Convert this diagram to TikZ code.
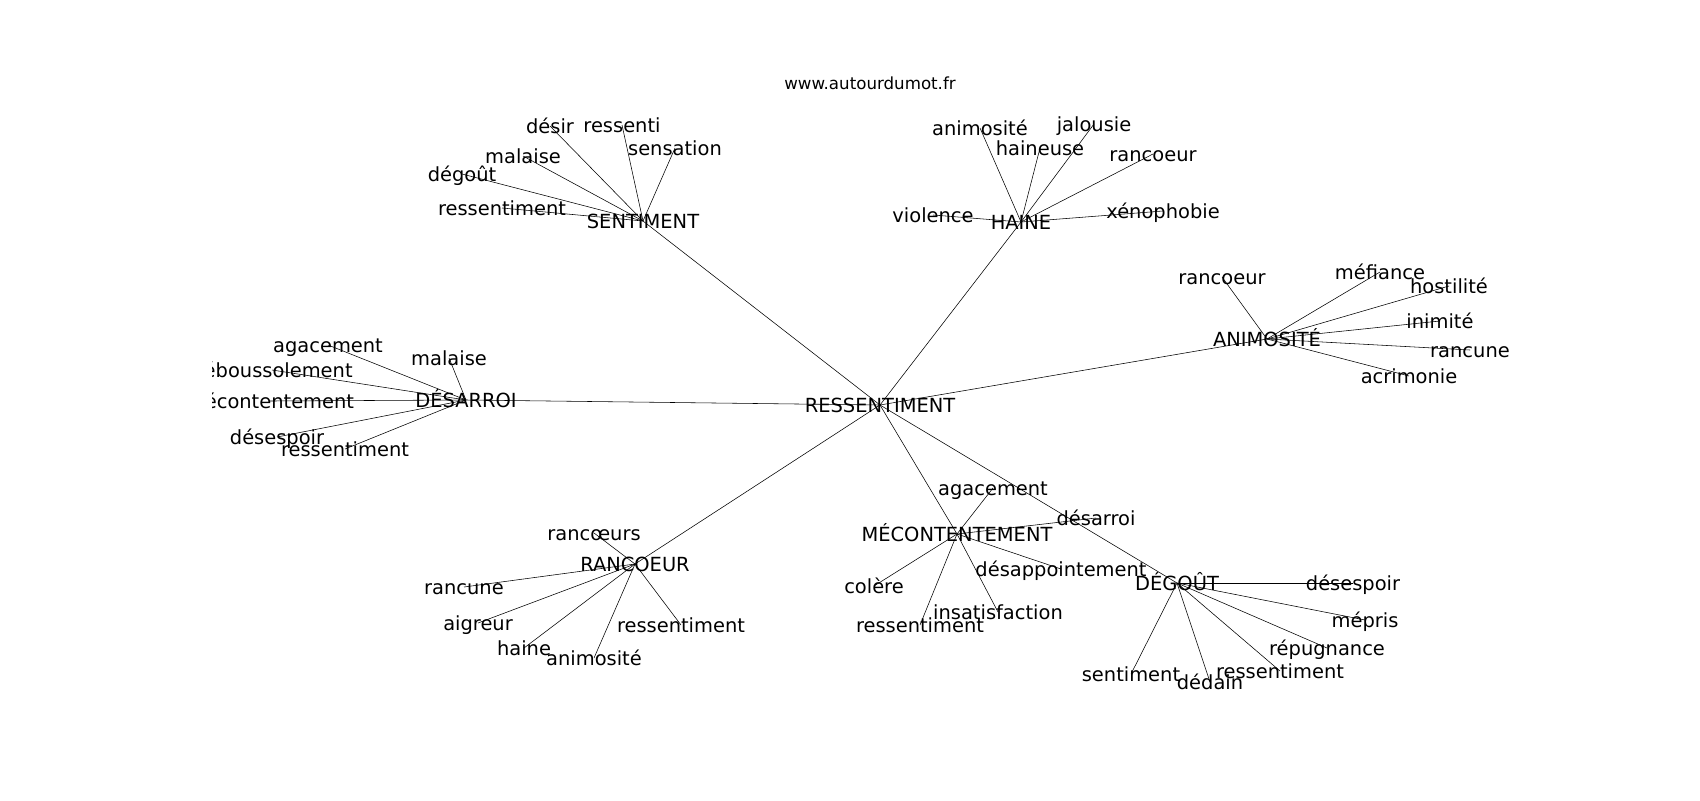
\documentclass[tikz,border=0pt]{standalone}
\usepackage{fontspec}
\setmainfont{DejaVu Sans}
\usetikzlibrary{backgrounds}
\begin{document}
\begin{tikzpicture}[x=0.72pt,y=-0.72pt,
    every node/.style={font=\fontsize{14}{17}\selectfont,inner sep=0pt,text height=10.2pt,text depth=0pt},
    titre/.style={font=\fontsize{12}{14}\selectfont,text height=8.8pt,text depth=0pt}]
      \useasboundingbox (0,0) rectangle (1700,800);
      \node[titre] (title) at (870,83) {www.autourdumot.fr};
      \begin{scope}
      \clip (212.5,96) rectangle (1530,712);
      \draw
        (880,405) node (0){RESSENTIMENT}
        (643,221) node (1){SENTIMENT}
        (1021,222) node (2){HAINE}
        (1267,339) node (3){ANIMOSITÉ}
        (466,400) node (4){DÉSARROI}
        (635,564) node (5){RANCOEUR}
        (957,534) node (6){MÉCONTENTEMENT}
        (1177,583) node (7){DÉGOÛT}
        (550,126) node (8){désir}
        (622,125) node (9){ressenti}
        (675,148) node (10){sensation}
        (523,156) node (11){malaise}
        (462,174) node (12){dégoût}
        (502,208) node (13){ressentiment}
        (980,128) node (14){animosité}
        (1040,148) node (15){haineuse}
        (1094,124) node (16){jalousie}
        (1153,154) node (17){rancoeur}
        (933,215) node (18){violence}
        (1163,211) node (19){xénophobie}
        (1222,277) node (20){rancoeur}
        (1380,272) node (21){méfiance}
        (1449,286) node (22){hostilité}
        (1440,321) node (23){inimité}
        (1470,350) node (24){rancune}
        (1409,376) node (25){acrimonie}
        (328,345) node (26){agacement}
        (449,358) node (27){malaise}
        (272,370) node (28){déboussolement}
        (270,401) node (29){mécontentement}
        (277,437) node (30){désespoir}
        (345,449) node (31){ressentiment}
        (594,533) node (32){rancœurs}
        (464,587) node (33){rancune}
        (478,623) node (34){aigreur}
        (524,648) node (35){haine}
        (594,658) node (36){animosité}
        (681,625) node (37){ressentiment}
        (993,488) node (38){agacement}
        (1096,518) node (39){désarroi}
        (1061,569) node (40){désappointement}
        (874,586) node (41){colère}
        (920,625) node (42){ressentiment}
        (998,612) node (43){insatisfaction}
        (1353,583) node (44){désespoir}
        (1365,620) node (45){mépris}
        (1327,648) node (46){répugnance}
        (1280,671) node (47){ressentiment}
        (1210,682) node (48){dédain}
        (1131,674) node (49){sentiment};
      \end{scope}
      \begin{scope}[on background layer,-,draw=black!50,line width=1pt]
        \draw (0.center) to (1.center);
        \draw (0.center) to (2.center);
        \draw (0.center) to (3.center);
        \draw (0.center) to (4.center);
        \draw (0.center) to (5.center);
        \draw (0.center) to (6.center);
        \draw (0.center) to (7.center);
        \foreach \leaf in {8,...,13} {\draw (1.center) to (\leaf.center);}
        \foreach \leaf in {14,...,19} {\draw (2.center) to (\leaf.center);}
        \foreach \leaf in {20,...,25} {\draw (3.center) to (\leaf.center);}
        \foreach \leaf in {26,...,31} {\draw (4.center) to (\leaf.center);}
        \foreach \leaf in {32,...,37} {\draw (5.center) to (\leaf.center);}
        \foreach \leaf in {38,...,43} {\draw (6.center) to (\leaf.center);}
        \foreach \leaf in {44,...,49} {\draw (7.center) to (\leaf.center);}
      \end{scope}
    \end{tikzpicture}
\end{document}
